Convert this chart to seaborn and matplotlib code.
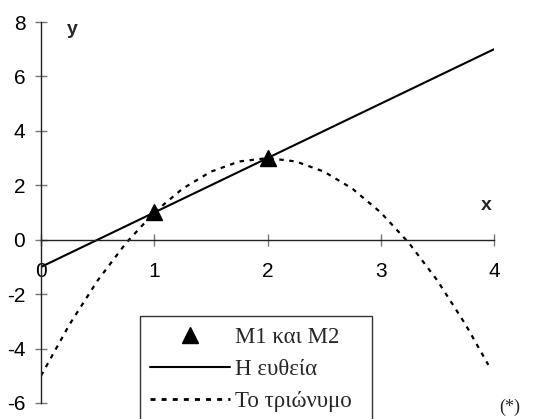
import matplotlib
matplotlib.use("Agg")
import matplotlib.pyplot as plt
from matplotlib.patches import Rectangle
from matplotlib.lines import Line2D
import seaborn as sns
import pandas as pd

# Points M1 and M2
pts_x = [1, 2]
pts_y = [1, 3]

# The straight line through M1 and M2
line_x = [0, 4]
line_y = [-1, 7]

# The quadratic (trinomial) curve
curve_x = [0, 0.25, 0.5, 0.75, 1, 1.25, 1.5, 1.75, 2, 2.25, 2.5, 2.75, 3, 3.25, 3.5, 3.75, 3.95]
curve_y = [-5, -3.125, -1.5, -0.125, 1, 1.875, 2.5, 2.875, 3, 2.875, 2.5, 1.875, 1, -0.125, -1.5, -3.125, -4.6]

x_ticks = [0, 1, 2, 3, 4]
y_ticks = [-6, -4, -2, 0, 2, 4, 6, 8]

legend_labels = ["M1 και M2", "Η ευθεία", "Το τριώνυμο"]

sns.set_style("white")
plt.rcParams["font.family"] = ["Liberation Sans", "DejaVu Sans"]

W, H = 539, 419
fig = plt.figure(figsize=(W / 100, H / 100), dpi=100)
ax = fig.add_axes([41 / W, 1 - 403 / H, (494 - 41) / W, (403 - 22) / H])

df_curve = pd.DataFrame({"x": curve_x, "y": curve_y})
df_line = pd.DataFrame({"x": line_x, "y": line_y})
df_pts = pd.DataFrame({"x": pts_x, "y": pts_y})

sns.lineplot(data=df_curve, x="x", y="y", ax=ax, color="black", lw=1.6,
             linestyle=(0, (2, 2.5)), sort=False)
sns.lineplot(data=df_line, x="x", y="y", ax=ax, color="black", lw=1.5)
ax.plot(df_pts["x"], df_pts["y"], linestyle="none", marker="^", ms=11,
        color="black", zorder=5)

ax.set_xlim(0, 4)
ax.set_ylim(-6, 8)
ax.set_xticks(x_ticks)
ax.set_yticks(y_ticks)
ax.set_xticklabels([str(v) for v in x_ticks])
ax.set_yticklabels([str(v) for v in y_ticks])
ax.set_xlabel("")
ax.set_ylabel("")

for s in ["top", "right"]:
    ax.spines[s].set_visible(False)
ax.spines["left"].set_position(("data", 0))
ax.spines["bottom"].set_position(("data", 0))
for s in ["left", "bottom"]:
    ax.spines[s].set_color("#222222")
    ax.spines[s].set_linewidth(1.0)

ax.tick_params(axis="both", which="major", direction="inout", length=8.6,
               width=1.0, color="#777777", labelsize=15, labelcolor="black")
ax.tick_params(axis="y", pad=7.0, left=True)
ax.tick_params(axis="x", pad=11.5, bottom=True)
ax.patch.set_alpha(0)

fig.text(72 / W, 1 - 30 / H, "y", fontsize=14, fontweight="bold",
         ha="center", va="center")
fig.text(486 / W, 1 - 205 / H, "x", fontsize=14, fontweight="bold",
         ha="center", va="center")

# Legend box, running off the bottom edge
fig.patches.append(Rectangle((140 / W, -0.05), (372 - 140) / W, (1 - 316 / H) + 0.05,
                             transform=fig.transFigure, facecolor="white",
                             edgecolor="#333333", lw=1.0, zorder=10))

handles = [
    Line2D([], [], linestyle="none", marker="^", ms=11, color="black"),
    Line2D([], [], color="black", lw=1.5),
    Line2D([], [], color="black", lw=2.0, linestyle=(0, (1.8, 2.2))),
]
leg = fig.legend(handles, legend_labels, loc="upper left",
                 bbox_to_anchor=(150 / W, 1 - 327 / H), frameon=False,
                 prop={"family": "Liberation Serif", "size": 16.5},
                 handlelength=3.5, handletextpad=0.2, labelspacing=0.48,
                 borderpad=0.0, borderaxespad=0.0, numpoints=1)
leg.set_zorder(11)

fig.text(510 / W, 1 - 407 / H, "(*)", family="Liberation Serif", fontsize=13,
         ha="center", va="center")

fig.savefig("out.png", dpi=100)
